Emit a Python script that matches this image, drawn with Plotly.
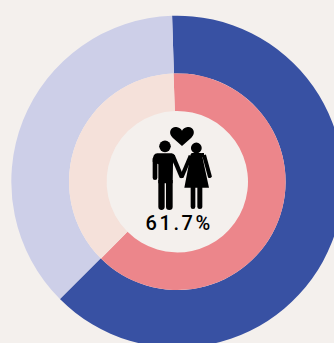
import math
import plotly.graph_objects as go

segments = ["Yes", "No"]
outer_values = [63.0, 37.0]
inner_values = [63.0, 37.0]
center_label = "61.7%"

outer_colors = ["#3851A3", "#CDCFE8"]
inner_colors = ["#EC868B", "#F5E1DA"]
BG = "#F4F0ED"

W, H = 360, 360
CX, CY = 177.3, 181.7


def px(x):
    return x / W


def py(y):
    return 1 - y / H


def domain(r):
    return dict(x=[px(CX - r), px(CX + r)], y=[py(CY + r), py(CY - r)])


def path(cmds):
    out = []
    for c in cmds:
        op, pts = c[0], c[1:]
        out.append(op + " " + " ".join(f"{px(x):.5f} {py(y):.5f}" for x, y in pts))
    return " ".join(out) + " Z"


def z(x, y):
    return (130 + x / 3, 115 + y / 3)


def shape_path(cmds):
    return dict(type="path", xref="paper", yref="paper", path=path(cmds),
                fillcolor="black", line=dict(width=0))


def circle(x, y, r):
    return dict(type="circle", xref="paper", yref="paper",
                x0=px(x - r), x1=px(x + r), y0=py(y + r), y1=py(y - r),
                fillcolor="black", line=dict(width=0))


def rounded(x0, x1, y0, y1):
    r = (x1 - x0) / 2
    return [("M", z(x0, y0)), ("L", z(x0, y1 - r)), ("Q", z(x0, y1), z(x0 + r, y1)),
            ("Q", z(x1, y1), z(x1, y1 - r)), ("L", z(x1, y0))]


def limb(x0, y0, x1, y1, w):
    d = math.hypot(x1 - x0, y1 - y0)
    nx, ny = -(y1 - y0) / d * w / 2, (x1 - x0) / d * w / 2
    return [("M", z(x0 + nx, y0 + ny)), ("L", z(x1 + nx, y1 + ny)),
            ("Q", z(x1 + (x1 - x0) / d * w / 2, y1 + (y1 - y0) / d * w / 2), z(x1 - nx, y1 - ny)),
            ("L", z(x0 - nx, y0 - ny))]


shapes = [
    # heart
    shape_path([("M", z(156, 93)), ("L", z(128, 68)),
                ("C", z(112, 52), z(124, 34), z(139, 36)),
                ("C", z(147, 37), z(153, 41), z(156, 47)),
                ("C", z(159, 41), z(165, 37), z(173, 36)),
                ("C", z(188, 34), z(200, 52), z(184, 68))]),
    # man
    circle(*z(105, 94), 5.8),
    shape_path([("M", z(82, 115)), ("L", z(125, 115)), ("Q", z(132, 115), z(135, 123)),
                ("L", z(129, 148)), ("L", z(128, 205)), ("L", z(85, 205)), ("L", z(85, 148)),
                ("L", z(68, 140)), ("Q", z(68, 115), z(82, 115))]),
    shape_path(rounded(68, 82, 130, 195)),
    shape_path(rounded(85, 104, 195, 285)),
    shape_path(rounded(108, 128, 195, 285)),
    shape_path(limb(128, 122, 155, 186, 13)),
    # woman
    circle(*z(199, 99), 5.4),
    shape_path([("M", z(186, 114)), ("L", z(214, 114)), ("Q", z(218, 116), z(218, 130)),
                ("L", z(237, 218)), ("L", z(163, 218)), ("L", z(180, 130)), ("Q", z(180, 116), z(186, 114))]),
    shape_path(limb(182, 122, 155, 186, 12)),
    shape_path(limb(222, 120, 240, 186, 12)),
    shape_path([("M", z(214, 114)), ("L", z(222, 114)), ("L", z(222, 126)), ("L", z(214, 126))]),
    shape_path(rounded(182, 196, 215, 282)),
    shape_path(rounded(202, 217, 215, 282)),
]

fig = go.Figure()
fig.add_trace(go.Pie(labels=segments, values=outer_values, sort=False, direction="clockwise",
                     rotation=-1.8, hole=108.3 / 166, domain=domain(166), textinfo="none",
                     hoverinfo="none", showlegend=False,
                     marker=dict(colors=outer_colors, line=dict(width=0))))
fig.add_trace(go.Pie(labels=segments, values=inner_values, sort=False, direction="clockwise",
                     rotation=-2, hole=70.7 / 108.3, domain=domain(108.3), textinfo="none",
                     hoverinfo="none", showlegend=False,
                     marker=dict(colors=inner_colors, line=dict(width=0))))

fig.update_layout(
    width=W, height=H, autosize=False,
    margin=dict(l=0, r=0, t=0, b=0),
    paper_bgcolor=BG, plot_bgcolor=BG, showlegend=False,
    shapes=shapes,
    annotations=[dict(text=center_label, xref="paper", yref="paper", x=px(179), y=py(223),
                      xanchor="center", yanchor="middle", showarrow=False,
                      font=dict(family="Roboto, Liberation Sans, sans-serif", size=20,
                                color="black", weight=500))],
)

post = """
document.documentElement.style.overflow='hidden';
document.documentElement.style.background='%s';
document.body.style.margin='0';
document.body.style.overflow='hidden';
document.body.style.background='%s';
var s=document.createElement('style');
s.textContent='.annotation-text{letter-spacing:2.6px}';
document.head.appendChild(s);
""" % (BG, BG)

fig.write_html("out.html", config={"displayModeBar": False}, post_script=post)
